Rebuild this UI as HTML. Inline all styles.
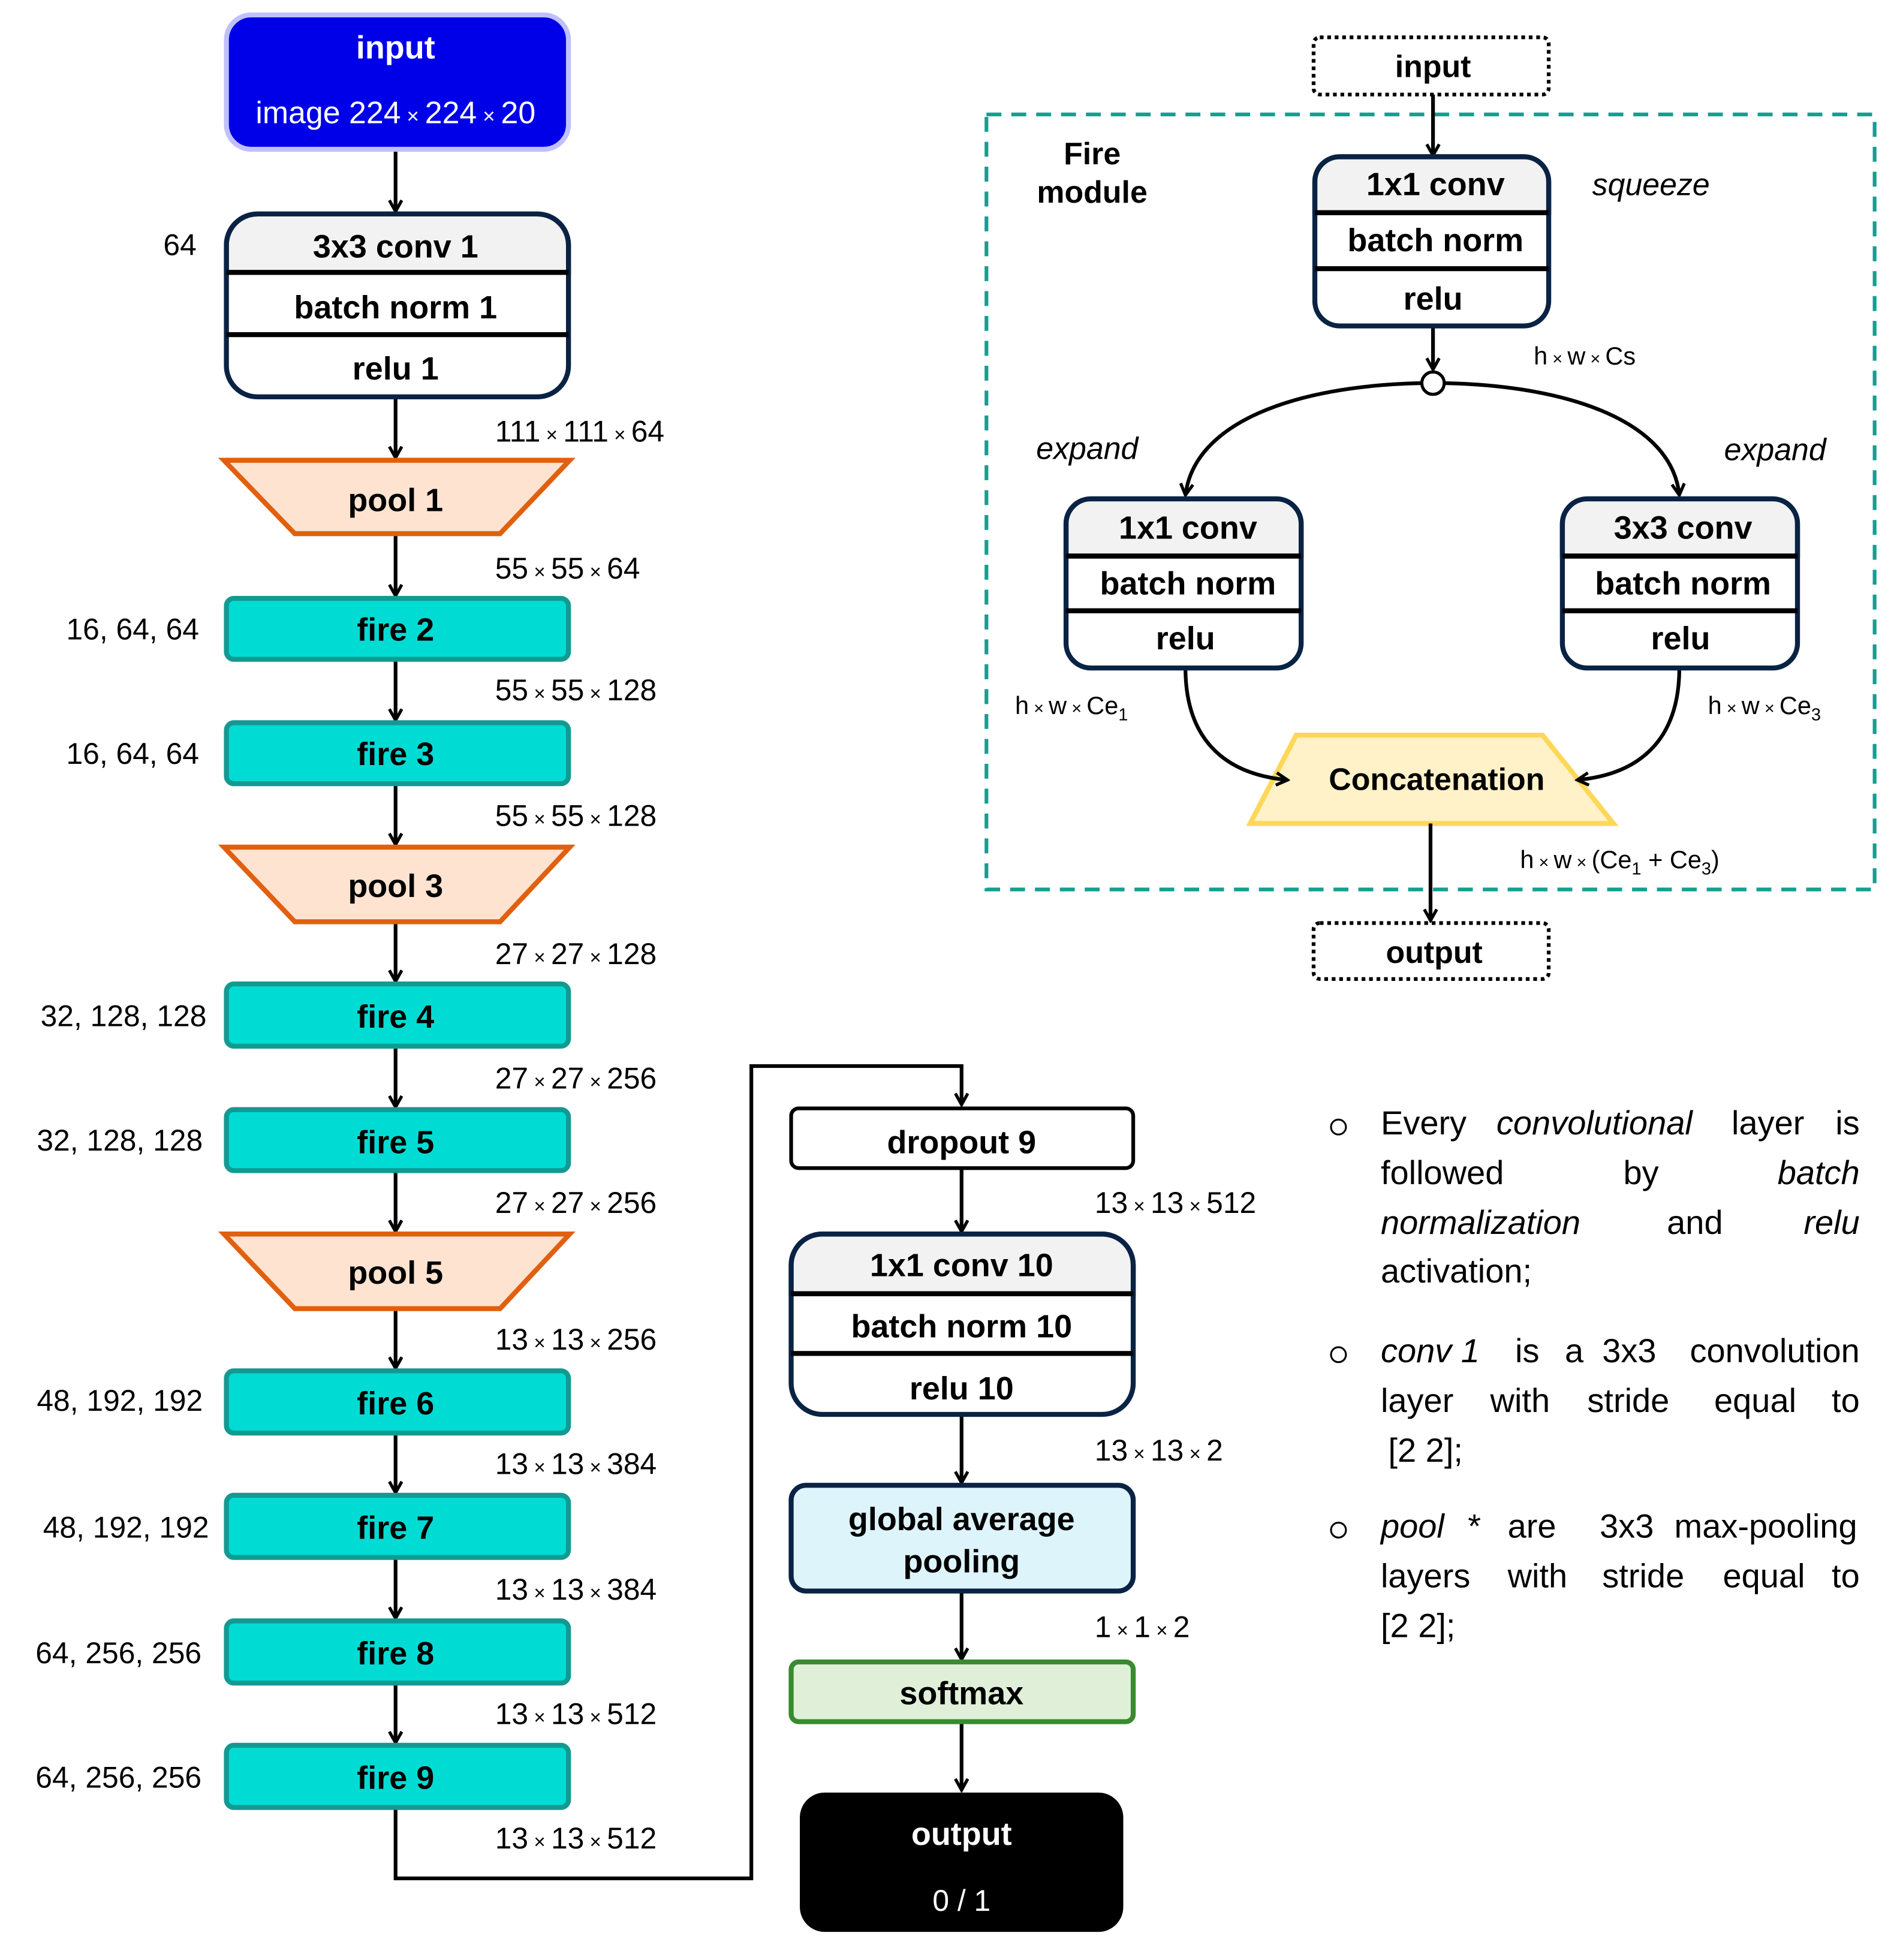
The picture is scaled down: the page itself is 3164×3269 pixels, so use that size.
<!DOCTYPE html>
<html><head><meta charset="utf-8"><style>html,body{margin:0;padding:0;background:#fff}svg{display:block}</style></head><body>
<svg width="3164" height="3269" viewBox="0 0 1525 1575.6" preserveAspectRatio="none" xmlns="http://www.w3.org/2000/svg" font-family="Liberation Sans, Arial, sans-serif">
<defs>
<marker id="ar" markerWidth="12" markerHeight="12" refX="10" refY="6" orient="auto" markerUnits="userSpaceOnUse"><path d="M1,1 L10,6 L1,11" fill="none" stroke="#000" stroke-width="2.5"/></marker>
</defs>
<rect width="1525" height="1576" fill="#fff"/>
<rect x="793" y="92" width="714" height="623" fill="none" stroke="#12a090" stroke-width="3" stroke-dasharray="12,8"/>
<polygon points="1042,591 1240,591 1297,662 1005,662" fill="#fff1c8" stroke="#fdd858" stroke-width="4"/>
<text x="1155" y="635" text-anchor="middle" font-size="25" font-weight="bold">Concatenation</text>
<g stroke="#000" stroke-width="3" fill="none" marker-end="url(#ar)">
<line x1="318" y1="120" x2="318" y2="170"/>
<line x1="318" y1="319" x2="318" y2="368"/>
<line x1="318" y1="429" x2="318" y2="479"/>
<line x1="318" y1="530" x2="318" y2="579"/>
<line x1="318" y1="630" x2="318" y2="679"/>
<line x1="318" y1="741" x2="318" y2="789"/>
<line x1="318" y1="841" x2="318" y2="890"/>
<line x1="318" y1="941" x2="318" y2="990"/>
<line x1="318" y1="1052" x2="318" y2="1100"/>
<line x1="318" y1="1152" x2="318" y2="1200"/>
<line x1="318" y1="1252" x2="318" y2="1301"/>
<line x1="318" y1="1353" x2="318" y2="1401"/>
<polyline points="318,1453 318,1510 604,1510 604,857 773,857 773,888"/>
<line x1="773" y1="939" x2="773" y2="990"/>
<line x1="773" y1="1137" x2="773" y2="1192"/>
<line x1="773" y1="1279" x2="773" y2="1334"/>
<line x1="773" y1="1384" x2="773" y2="1439"/>
<line x1="1152" y1="76" x2="1152" y2="125"/>
<line x1="1152" y1="262" x2="1152" y2="297"/>
<path d="M1143,308 C1040,310 960,340 953,398"/>
<path d="M1161,308 C1264,310 1344,340 1350,398"/>
<path d="M953,537 C953,590 980,622 1035,627"/>
<path d="M1350,537 C1350,590 1323,622 1268,627"/>
<line x1="1150" y1="662" x2="1150" y2="740"/>
</g>
<circle cx="1152" cy="308" r="9" fill="#fff" stroke="#000" stroke-width="2.5"/>
<rect x="182" y="12" width="275" height="108" rx="20" fill="#0000e8" stroke="#c0c0ff" stroke-width="4"/>
<text x="318" y="47" text-anchor="middle" fill="#fff" font-size="26" font-weight="bold">input</text>
<text x="318" y="99" text-anchor="middle" fill="#fff" font-size="25">image 224<tspan font-size="17"> × </tspan>224<tspan font-size="17"> × </tspan>20</text>
<g stroke="#0a2344" stroke-width="4">
<path d="M182,219 V197 a25,25 0 0 1 25,-25 H432 a25,25 0 0 1 25,25 V219 Z" fill="#f2f2f2"/>
<path d="M636,1040 V1017 a25,25 0 0 1 25,-25 H886 a25,25 0 0 1 25,25 V1040 Z" fill="#f2f2f2"/>
<path d="M1057,171 V146 a20,20 0 0 1 20,-20 H1225 a20,20 0 0 1 20,20 V171 Z" fill="#f2f2f2"/>
<path d="M857,447 V421 a20,20 0 0 1 20,-20 H1026 a20,20 0 0 1 20,20 V447 Z" fill="#f2f2f2"/>
<path d="M1256,447 V421 a20,20 0 0 1 20,-20 H1425 a20,20 0 0 1 20,20 V447 Z" fill="#f2f2f2"/>
</g>
<g fill="none" stroke="#0a2344" stroke-width="4">
<rect x="182" y="172" width="275" height="147" rx="25"/>
<rect x="636" y="992" width="275" height="145" rx="25"/>
<rect x="1057" y="126" width="188" height="136" rx="20"/>
<rect x="857" y="401" width="189" height="136" rx="20"/>
<rect x="1256" y="401" width="189" height="136" rx="20"/>
</g>
<g stroke="#000" stroke-width="4">
<line x1="182" y1="219" x2="457" y2="219"/><line x1="182" y1="269" x2="457" y2="269"/>
<line x1="636" y1="1040" x2="911" y2="1040"/><line x1="636" y1="1088" x2="911" y2="1088"/>
<line x1="1057" y1="171" x2="1245" y2="171"/><line x1="1057" y1="216" x2="1245" y2="216"/>
<line x1="857" y1="447" x2="1046" y2="447"/><line x1="857" y1="491" x2="1046" y2="491"/>
<line x1="1256" y1="447" x2="1445" y2="447"/><line x1="1256" y1="491" x2="1445" y2="491"/>
</g>
<g font-size="26" font-weight="bold" text-anchor="middle" fill="#000">
<text x="318" y="207">3x3 conv 1</text><text x="318" y="256">batch norm 1</text><text x="318" y="305">relu 1</text>
<text x="773" y="1026">1x1 conv 10</text><text x="773" y="1075">batch norm 10</text><text x="773" y="1125">relu 10</text>
<text x="1154" y="157">1x1 conv</text><text x="1154" y="202">batch norm</text><text x="1152" y="249">relu</text>
<text x="955" y="433">1x1 conv</text><text x="955" y="478">batch norm</text><text x="953" y="522">relu</text>
<text x="1353" y="433">3x3 conv</text><text x="1353" y="478">batch norm</text><text x="1351" y="522">relu</text>
</g>
<g fill="#fde3d0" stroke="#e06010" stroke-width="4">
<polygon points="180,370 458,370 402,429 237,429"/>
<polygon points="180,681 458,681 402,741 237,741"/>
<polygon points="180,992 458,992 402,1052 237,1052"/>
</g>
<g fill="#00dcd4" stroke="#129a92" stroke-width="4">
<rect x="182" y="481" width="275" height="49" rx="6"/>
<rect x="182" y="581" width="275" height="49" rx="6"/>
<rect x="182" y="791" width="275" height="50" rx="6"/>
<rect x="182" y="892" width="275" height="49" rx="6"/>
<rect x="182" y="1102" width="275" height="50" rx="6"/>
<rect x="182" y="1202" width="275" height="50" rx="6"/>
<rect x="182" y="1303" width="275" height="50" rx="6"/>
<rect x="182" y="1403" width="275" height="50" rx="6"/>
</g>
<g font-size="26" font-weight="bold" text-anchor="middle">
<text x="318" y="411">pool 1</text><text x="318" y="721">pool 3</text><text x="318" y="1032">pool 5</text>
<text x="318" y="515">fire 2</text><text x="318" y="615">fire 3</text><text x="318" y="826">fire 4</text><text x="318" y="927">fire 5</text>
<text x="318" y="1137">fire 6</text><text x="318" y="1237">fire 7</text><text x="318" y="1338">fire 8</text><text x="318" y="1438">fire 9</text>
</g>
<g font-size="24" text-anchor="end">
<text x="158" y="205">64</text>
<text x="160" y="514">16, 64, 64</text><text x="160" y="614">16, 64, 64</text>
<text x="166" y="825">32, 128, 128</text><text x="163" y="925">32, 128, 128</text>
<text x="163" y="1134">48, 192, 192</text><text x="168" y="1236">48, 192, 192</text>
<text x="162" y="1337">64, 256, 256</text><text x="162" y="1437">64, 256, 256</text>
</g>
<g font-size="24">
<text x="398" y="355">111<tspan font-size="16"> × </tspan>111<tspan font-size="16"> × </tspan>64</text>
<text x="398" y="465">55<tspan font-size="16"> × </tspan>55<tspan font-size="16"> × </tspan>64</text>
<text x="398" y="563">55<tspan font-size="16"> × </tspan>55<tspan font-size="16"> × </tspan>128</text>
<text x="398" y="664">55<tspan font-size="16"> × </tspan>55<tspan font-size="16"> × </tspan>128</text>
<text x="398" y="775">27<tspan font-size="16"> × </tspan>27<tspan font-size="16"> × </tspan>128</text>
<text x="398" y="875">27<tspan font-size="16"> × </tspan>27<tspan font-size="16"> × </tspan>256</text>
<text x="398" y="975">27<tspan font-size="16"> × </tspan>27<tspan font-size="16"> × </tspan>256</text>
<text x="398" y="1085">13<tspan font-size="16"> × </tspan>13<tspan font-size="16"> × </tspan>256</text>
<text x="398" y="1185">13<tspan font-size="16"> × </tspan>13<tspan font-size="16"> × </tspan>384</text>
<text x="398" y="1286">13<tspan font-size="16"> × </tspan>13<tspan font-size="16"> × </tspan>384</text>
<text x="398" y="1386">13<tspan font-size="16"> × </tspan>13<tspan font-size="16"> × </tspan>512</text>
<text x="398" y="1486">13<tspan font-size="16"> × </tspan>13<tspan font-size="16"> × </tspan>512</text>
<text x="880" y="975">13<tspan font-size="16"> × </tspan>13<tspan font-size="16"> × </tspan>512</text>
<text x="880" y="1174">13<tspan font-size="16"> × </tspan>13<tspan font-size="16"> × </tspan>2</text>
<text x="880" y="1316">1<tspan font-size="16"> × </tspan>1<tspan font-size="16"> × </tspan>2</text>
</g>
<rect x="636" y="891" width="275" height="48" rx="6" fill="#fff" stroke="#000" stroke-width="3"/>
<text x="773" y="927" text-anchor="middle" font-size="26" font-weight="bold">dropout 9</text>
<rect x="636" y="1194" width="275" height="85" rx="12" fill="#ddf4fb" stroke="#0a2344" stroke-width="4"/>
<text x="773" y="1230" text-anchor="middle" font-size="26" font-weight="bold">global average</text>
<text x="773" y="1264" text-anchor="middle" font-size="26" font-weight="bold">pooling</text>
<rect x="636" y="1336" width="275" height="48" rx="6" fill="#e0f0d8" stroke="#3a8a30" stroke-width="4"/>
<text x="773" y="1370" text-anchor="middle" font-size="26" font-weight="bold">softmax</text>
<rect x="643" y="1441" width="260" height="112" rx="20" fill="#000"/>
<text x="773" y="1483" text-anchor="middle" fill="#fff" font-size="26" font-weight="bold">output</text>
<text x="773" y="1536" text-anchor="middle" fill="#fff" font-size="24">0 / 1</text>
<rect x="1056" y="30" width="189" height="46" rx="5" fill="#fff" stroke="#000" stroke-width="3" stroke-dasharray="3,3"/>
<text x="1152" y="62" text-anchor="middle" font-size="25" font-weight="bold">input</text>
<rect x="1056" y="742" width="189" height="45" rx="5" fill="#fff" stroke="#000" stroke-width="3" stroke-dasharray="3,3"/>
<text x="1153" y="774" text-anchor="middle" font-size="25" font-weight="bold">output</text>
<text x="878" y="132" text-anchor="middle" font-size="25" font-weight="bold">Fire</text>
<text x="878" y="163" text-anchor="middle" font-size="25" font-weight="bold">module</text>
<g font-size="25" font-style="italic">
<text x="1280" y="157">squeeze</text><text x="833" y="369">expand</text><text x="1386" y="370">expand</text>
</g>
<g font-size="20">
<text x="1233" y="293">h<tspan font-size="14"> × </tspan>w<tspan font-size="14"> × </tspan>Cs</text>
<text x="816" y="574">h<tspan font-size="14"> × </tspan>w<tspan font-size="14"> × </tspan>Ce<tspan font-size="14" dy="5">1</tspan></text>
<text x="1373" y="574">h<tspan font-size="14"> × </tspan>w<tspan font-size="14"> × </tspan>Ce<tspan font-size="14" dy="5">3</tspan></text>
<text x="1222" y="698">h<tspan font-size="14"> × </tspan>w<tspan font-size="14"> × </tspan>(Ce<tspan font-size="14" dy="5">1</tspan><tspan dy="-5"> + Ce</tspan><tspan font-size="14" dy="5">3</tspan><tspan dy="-5">)</tspan></text>
</g>
<g fill="none" stroke="#000" stroke-width="1.5">
<circle cx="1076" cy="906" r="6"/><circle cx="1076" cy="1089" r="6"/><circle cx="1076" cy="1230" r="6"/>
</g>
<g font-size="27">
<text x="1110" y="912">Every</text><text x="1203" y="912" font-style="italic">convolutional</text><text x="1392" y="912">layer</text><text x="1495" y="912" text-anchor="end">is</text>
<text x="1110" y="952">followed</text><text x="1305" y="952">by</text><text x="1495" y="952" text-anchor="end" font-style="italic">batch</text>
<text x="1110" y="992" font-style="italic">normalization</text><text x="1340" y="992">and</text><text x="1495" y="992" text-anchor="end" font-style="italic">relu</text>
<text x="1110" y="1031">activation;</text>
<text x="1110" y="1095" font-style="italic">conv 1</text><text x="1218" y="1095">is</text><text x="1258" y="1095">a</text><text x="1288" y="1095">3x3</text><text x="1495" y="1095" text-anchor="end">convolution</text>
<text x="1110" y="1135">layer</text><text x="1198" y="1135">with</text><text x="1276" y="1135">stride</text><text x="1378" y="1135">equal</text><text x="1495" y="1135" text-anchor="end">to</text>
<text x="1116" y="1175">[2 2];</text>
<text x="1110" y="1236" font-style="italic">pool</text><text x="1180" y="1236">*</text><text x="1212" y="1236">are</text><text x="1286" y="1236">3x3</text><text x="1493" y="1236" text-anchor="end">max-pooling</text>
<text x="1110" y="1276">layers</text><text x="1212" y="1276">with</text><text x="1288" y="1276">stride</text><text x="1385" y="1276">equal</text><text x="1495" y="1276" text-anchor="end">to</text>
<text x="1110" y="1316">[2 2];</text>
</g>
</svg>
</body></html>
